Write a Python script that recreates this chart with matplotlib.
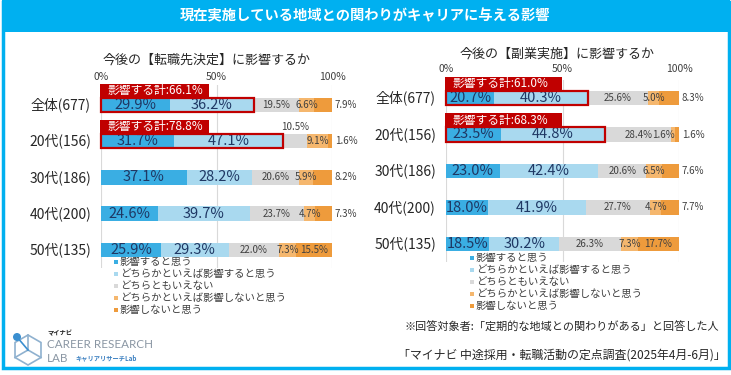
import matplotlib
matplotlib.use("Agg")
import matplotlib.pyplot as plt
from matplotlib.patches import Rectangle, Circle, Polygon
import numpy as np

plt.rcParams['font.family'] = ['Noto Sans CJK JP', 'DejaVu Sans']

# ---- data ----
categories = ['全体(677)', '20代(156)', '30代(186)', '40代(200)', '50代(135)']
legend_labels = ['影響すると思う', 'どちらかといえば影響すると思う', 'どちらともいえない',
                 'どちらかといえば影響しないと思う', '影響しないと思う']

tenshoku_affect = [29.9, 31.7, 37.1, 24.6, 25.9]
tenshoku_rather_affect = [36.2, 47.1, 28.2, 39.7, 29.3]
tenshoku_neither = [19.5, 10.5, 20.6, 23.7, 22.0]
tenshoku_rather_not = [6.6, 9.1, 5.9, 4.7, 7.3]
tenshoku_not = [7.9, 1.6, 8.2, 7.3, 15.5]
tenshoku_total = ['66.1', '78.8']

fukugyo_affect = [20.7, 23.5, 23.0, 18.0, 18.5]
fukugyo_rather_affect = [40.3, 44.8, 42.4, 41.9, 30.2]
fukugyo_neither = [25.6, 28.4, 20.6, 27.7, 26.3]
fukugyo_rather_not = [5.0, 1.6, 6.5, 4.7, 7.3]
fukugyo_not = [8.3, 1.6, 7.6, 7.7, 17.7]
fukugyo_total = ['61.0', '68.3']

colors = ['#3AAEE3', '#A9D9EF', '#D9D9D9', '#F5B76E', '#EE9B3C']
RED = '#C00000'
CYAN = '#00B0F0'

W, H = 731, 375
fig = plt.figure(figsize=(W / 100, H / 100), dpi=100)

# background / frame in pixel coords
bg = fig.add_axes([0, 0, 1, 1], zorder=0)
bg.set_xlim(0, W)
bg.set_ylim(H, 0)
bg.axis('off')
bg.add_patch(Rectangle((2.5, 2), 726, 366, fc='white', ec=CYAN, lw=2.5))
bg.add_patch(Rectangle((1.5, 0), 728, 32, fc=CYAN, ec='none'))
bg.text(365, 16, '現在実施している地域との関わりがキャリアに与える影響', color='white',
        fontsize=10.3, fontweight='bold', ha='center', va='center')


def draw_chart(box, row0, step, series, totals, title, title_xy, tick_pad,
               label_w, legend_xy, above=()):
    left, right, top, bottom = box
    ax = fig.add_axes([left / W, 1 - bottom / H, (right - left) / W, (bottom - top) / H],
                      zorder=1)
    ax.patch.set_alpha(0)
    ax.set_xlim(0, 100)
    ax.set_ylim((bottom - row0) / step, (top - row0) / step)
    for s in ax.spines.values():
        s.set_visible(False)
    ax.xaxis.tick_top()
    ax.set_xticks([0, 50, 100])
    ax.set_xticklabels(['0%', '50%', '100%'], fontsize=7.5, color='#404040')
    ax.tick_params(axis='x', length=0, pad=tick_pad)
    ax.set_yticks([])
    for xv in [0, 50, 100]:
        ax.axvline(xv, color='#D9D9D9', lw=0.8, zorder=0)

    h = 14.5 / step
    y = np.arange(len(categories))
    vals = np.array(series)
    starts = np.vstack([np.zeros(len(categories)), np.cumsum(vals, axis=0)[:-1]])
    for k in range(len(series)):
        ax.barh(y, vals[k], left=starts[k], height=h, color=colors[k], zorder=2)
        for i in range(len(categories)):
            v = vals[k][i]
            cx = starts[k][i] + v / 2
            txt = f'{v:.1f}%'
            if k < 2:
                ax.text(cx, i, txt, ha='center', va='center', fontsize=10.5,
                        color='#1F3864', zorder=4)
            elif (k, i) in above:
                ax.text(cx, i - h / 2 - 0.05, txt, ha='center', va='bottom',
                        fontsize=7, color='#404040', zorder=4)
            elif k == 4 and v < 10:
                ax.text(101.2, i, txt, ha='left', va='center', fontsize=7,
                        color='#404040', zorder=4, clip_on=False)
            elif k == 3 and v < 3:
                ax.text(starts[k][i] + v, i, txt, ha='right', va='center', fontsize=7,
                        color='#404040', zorder=4)
            else:
                ax.text(cx, i, txt, ha='center', va='center', fontsize=7,
                        color='#404040', zorder=4)

    # "影響する計" boxes
    hb = 14 / step
    for i, t in enumerate(totals):
        tot = vals[0][i] + vals[1][i]
        ax.add_patch(Rectangle((0, i - h / 2), tot, h, fill=False, ec=RED, lw=1.6,
                               zorder=5, clip_on=False))
        ax.add_patch(Rectangle((-0.3, i - h / 2 - hb), label_w, hb, fc=RED, ec='none',
                               zorder=5, clip_on=False))
        ax.text(3, i - h / 2 - hb / 2, f'影響する計:{t}%', color='white', fontsize=8.5,
                ha='left', va='center', zorder=6, clip_on=False)

    # category labels
    for i, c in enumerate(categories):
        bg.text(left - 10, row0 + step * i, c, ha='right', va='center', fontsize=10,
                color='#262626')

    bg.text(title_xy[0], title_xy[1], title, ha='center', va='center', fontsize=9.4,
            color='#262626')

    lx, ly = legend_xy
    for k, lab in enumerate(legend_labels):
        yy = ly + 12 * k
        bg.add_patch(Rectangle((lx - 2, yy - 2), 4, 4, fc=colors[k], ec='none'))
        bg.text(lx + 4, yy, lab, ha='left', va='center', fontsize=7.5, color='#404040')


draw_chart((101, 332, 85, 268), 105, 36.2,
           [tenshoku_affect, tenshoku_rather_affect, tenshoku_neither,
            tenshoku_rather_not, tenshoku_not],
           tenshoku_total, '今後の【転職先決定】に影響するか', (207, 60), 2.5, 47,
           (116, 262), above={(2, 1)})

draw_chart((446, 679, 80, 262), 98, 36.5,
           [fukugyo_affect, fukugyo_rather_affect, fukugyo_neither,
            fukugyo_rather_not, fukugyo_not],
           fukugyo_total, '今後の【副業実施】に影響するか', (557, 54), 4, 50,
           (472, 258))

# footnotes
bg.text(405, 327, '※回答対象者:「定期的な地域との関わりがある」と回答した人', ha='left',
        va='center', fontsize=8.0, color='#262626')
bg.text(398, 355, '「マイナビ 中途採用・転職活動の定点調査(2025年4月-6月)」', ha='left',
        va='center', fontsize=8.6, color='#262626')

# logo (rough)
cx, cy, r = 28, 350, 15
ang = np.deg2rad(np.arange(90, 450, 60))
hexpts = np.column_stack([cx + r * np.cos(ang), cy - r * np.sin(ang)])
bg.add_patch(Polygon(hexpts, closed=True, fill=False, ec='#8FB1CF', lw=1.2))
for j in [0, 2, 4]:
    bg.plot([cx, hexpts[j][0]], [cy, hexpts[j][1]], color='#8FB1CF', lw=1.2)
bg.plot([17, cx], [337, cy], color='#3A8FD0', lw=1.2)
bg.add_patch(Circle((17, 337), 4, fc='#3A8FD0', ec='none'))
bg.text(47, 333, 'マイナビ', fontsize=4.5, fontweight='bold', color='#222222', va='center')
bg.text(47, 345, 'CAREER RESEARCH', fontsize=8.4, color='#8A96A3', va='center',
        family='Lato')
bg.text(47, 358, 'LAB', fontsize=8.4, color='#8A96A3', va='center', family='Lato')
bg.text(75, 358, 'キャリアリサーチLab', fontsize=4.5, fontweight='bold', color='#3A7FC0',
        va='center')

fig.savefig('out.png', dpi=100)
